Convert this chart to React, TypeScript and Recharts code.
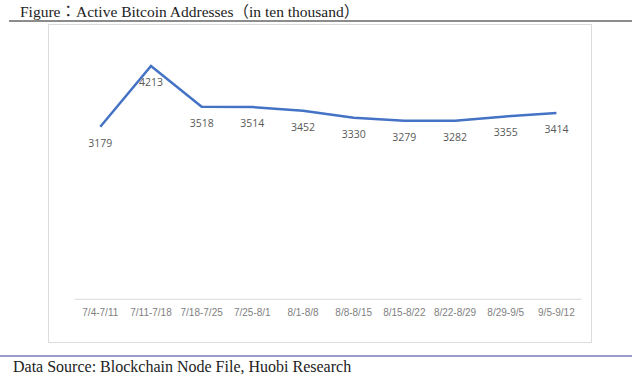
import React from 'react';
import { LineChart, Line, XAxis, YAxis, LabelList } from 'recharts';

const weeks = ['7/4-7/11', '7/11-7/18', '7/18-7/25', '7/25-8/1', '8/1-8/8', '8/8-8/15', '8/15-8/22', '8/22-8/29', '8/29-9/5', '9/5-9/12'];
const addresses = [3179, 4213, 3518, 3514, 3452, 3330, 3279, 3282, 3355, 3414];
const yDomain = [240, 4700];

const data = weeks.map((w, i) => ({ week: w, value: addresses[i] }));

const renderLabel = (props: any) => {
  const { x, y, value } = props;
  return (
    <text x={x} y={y + 16} textAnchor="middle" dominantBaseline="central" fontSize={10.5} fill="#595959" fontFamily="'Open Sans', 'Liberation Sans', sans-serif">
      {value}
    </text>
  );
};

export default function App() {
  return (
    <div style={{ position: 'absolute', left: 0, top: 0, width: 640, height: 379, background: '#fff', overflow: 'hidden' }}>
      <div style={{ position: 'absolute', left: 20, top: 2, fontFamily: "'Liberation Serif', 'Noto Sans CJK TC', serif", fontSize: 15.5, color: '#222', whiteSpace: 'nowrap', lineHeight: '20px' }}>
        Figure：Active Bitcoin Addresses（in ten thousand）
      </div>
      <div style={{ position: 'absolute', left: 9, top: 20, width: 623, height: 2, background: '#8c8c8c' }} />
      <div style={{ position: 'absolute', left: 48, top: 24, width: 542, height: 317, border: '1px solid #dcdcdc' }} />
      <div style={{ position: 'absolute', left: 0, top: 0 }}>
        <LineChart width={640} height={379} data={data} margin={{ top: 37.4, right: 58.3, left: 75, bottom: 49.7 }}>
          <XAxis dataKey="week" height={30} stroke="#d9d9d9" tickLine={false} tickMargin={4} interval={0}
            padding={{ left: 25.3, right: 25.3 }}
            tick={{ fontSize: 10, fill: '#7f7f7f', fontFamily: "'Liberation Sans', sans-serif" }} />
          <YAxis hide domain={yDomain} />
          <Line type="linear" dataKey="value" stroke="#4472C4" strokeWidth={2.5} dot={false} isAnimationActive={false}>
            <LabelList dataKey="value" content={renderLabel} />
          </Line>
        </LineChart>
      </div>
      <div style={{ position: 'absolute', left: 0, top: 355, width: 632, height: 2, background: '#9b9bd0' }} />
      <div style={{ position: 'absolute', left: 13, top: 357, fontFamily: "'Liberation Serif', serif", fontSize: 16, color: '#222', whiteSpace: 'nowrap', lineHeight: '20px' }}>
        Data Source: Blockchain Node File, Huobi Research
      </div>
    </div>
  );
}
